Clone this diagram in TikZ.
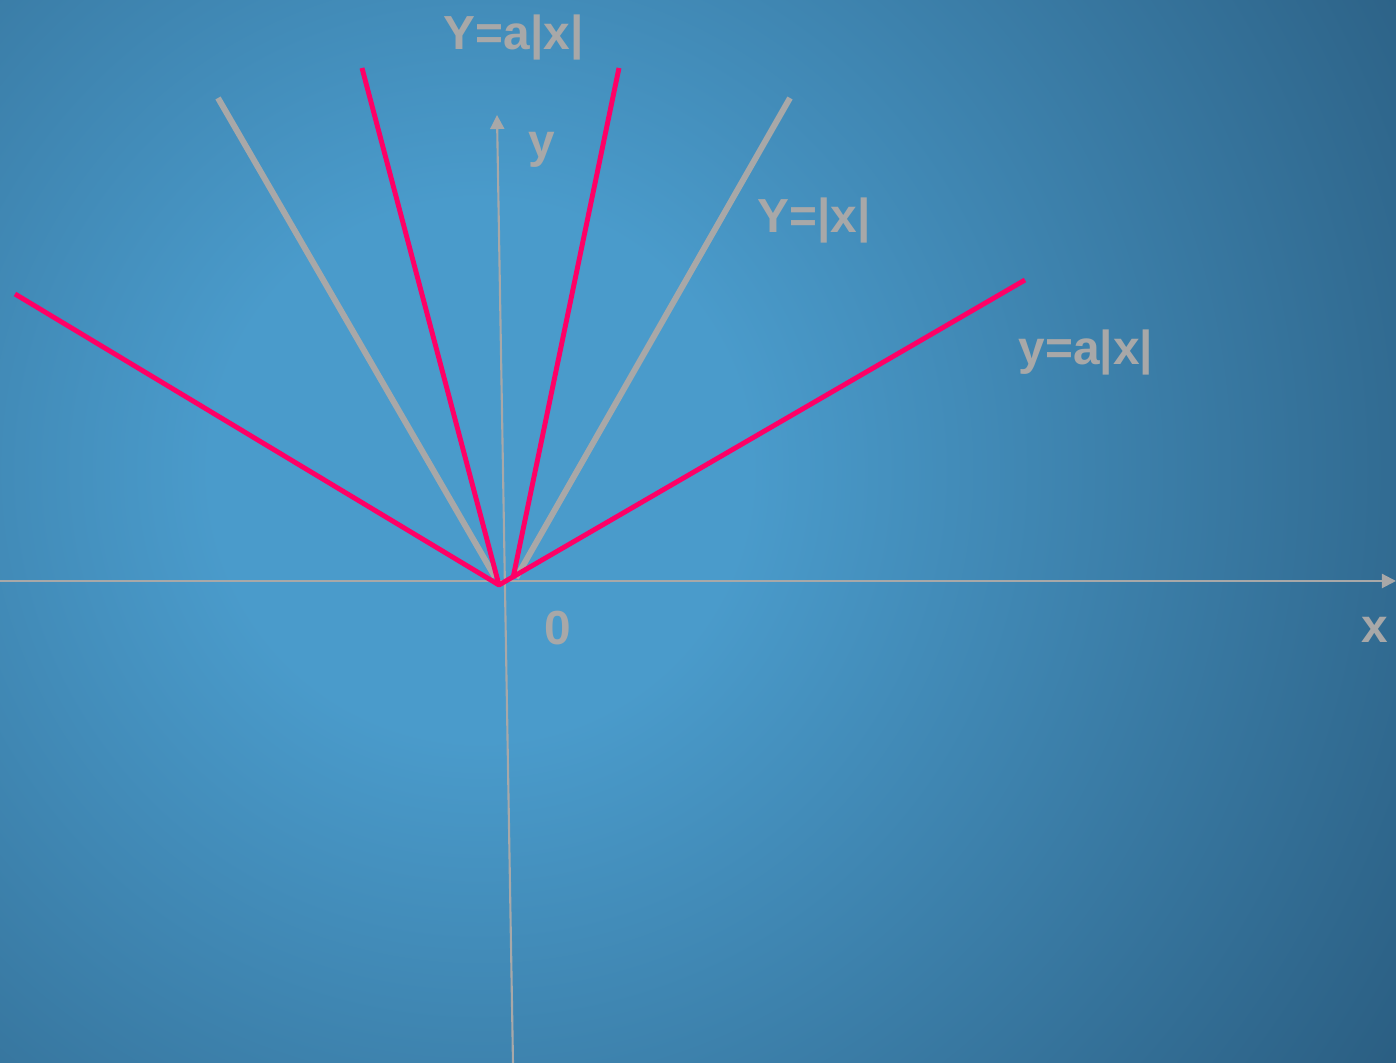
\documentclass[tikz,border=0pt]{standalone}
\usepackage{fontspec}
\setmainfont{Liberation Sans}
\usetikzlibrary{arrows.meta}
\definecolor{bgin}{HTML}{4A9BCB}
\definecolor{bgout}{HTML}{28597C}
\definecolor{axisgray}{HTML}{A8A8A8}
\definecolor{vred}{HTML}{FF0066}
\pgfdeclareradialshading{bgglow}{\pgfpoint{0cm}{0cm}}{color(0bp)=(bgin); color(6bp)=(bgin); color(26bp)=(bgout); color(50bp)=(bgout)}

\begin{document}
\begin{tikzpicture}[
            scale=1,
            line join=round,
            >={Triangle[length=4pt,width=4pt]},
            lbl/.style={text=axisgray, inner sep=0pt, anchor=base west,
                        font=\fontsize{13.6}{15}\selectfont\bfseries}
        ]

        % Background
        \useasboundingbox (-5.05,-4.82) rectangle (8.91,5.81);
        \fill[bgout] (-5.05,-4.82) rectangle (8.91,5.81);
        \begin{scope}
            \clip (-5.05,-4.82) rectangle (8.91,5.81);
            \shade[shading=bgglow] (-0.25,1.11) circle (11.2);
        \end{scope}

        % Coordinate axes
        \coordinate (xl) at (-5.05,0);
        \coordinate (xr) at (8.91,0);
        \coordinate (yb) at (0.08,-4.82);
        \coordinate (yt) at (-0.08,4.66);
        \draw[axisgray, line width=0.6pt, ->] (xl) -- (xr);
        \draw[axisgray, line width=0.6pt, ->] (yb) -- (yt);

        % Graph of y=|x|
        \coordinate (G1) at (-2.87,4.83);
        \coordinate (G0) at (-0.10,0.04);
        \coordinate (G2) at (2.85,4.83);
        \coordinate (G3) at (0.11,0.03);
        \draw[axisgray, line width=1.7pt] (G1) -- (G0);
        \draw[axisgray, line width=1.7pt] (G2) -- (G3);

        % Graphs of y=a|x|
        \coordinate (A) at (-0.06,-0.04);
        \coordinate (B) at (0.08,0.03);
        \coordinate (P1) at (-4.90,2.87);
        \coordinate (P2) at (5.20,3.01);
        \coordinate (Q1) at (-1.43,5.13);
        \coordinate (Q2) at (1.14,5.13);
        \draw[vred, line width=1.4pt] (P1) -- (A) -- (P2);
        \draw[vred, line width=1.4pt] (Q1) -- (A);
        \draw[vred, line width=1.4pt] (Q2) -- (B);

        % Labels
        \node[lbl] (ltop) at (-0.62,5.31) {Y=a|x|};
        \node[lbl] (lmid) at (2.52,3.48) {Y=|x|};
        \node[lbl] (lright) at (5.13,2.16) {y=a|x|};
        \node[lbl] (ly) at (0.23,4.23) {y};
        \node[lbl] (lx) at (8.56,-0.62) {x};
        \node[lbl] (lo) at (0.39,-0.64) {0};

\end{tikzpicture}
\end{document}
